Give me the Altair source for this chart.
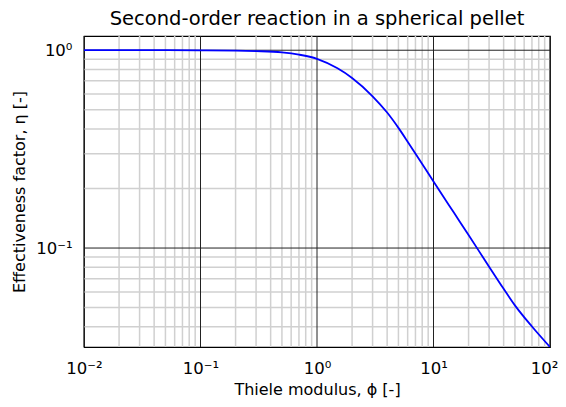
import altair as alt
import pandas as pd

# Curve (Thiele modulus phi vs effectiveness factor eta)
phi = [0.01, 0.02, 0.05, 0.1, 0.2, 0.3, 0.5, 0.7, 1.0, 1.5, 2.0, 3.0, 4.0, 5.0,
       6.0, 8.0, 10.0, 15.0, 20.0, 30.0, 40.0, 50.0, 70.0, 100.0]
eta = [1.0, 1.0, 1.0, 0.999, 0.996, 0.99, 0.975, 0.95, 0.905, 0.81, 0.724, 0.585,
       0.484, 0.405, 0.345, 0.266, 0.217, 0.1506, 0.1163, 0.0805, 0.0622, 0.0513,
       0.0401, 0.0316]

# Grid positions
x_major = [0.01, 0.1, 1.0, 10.0, 100.0]
x_minor = [0.02, 0.03, 0.04, 0.05, 0.06, 0.07, 0.08, 0.09,
           0.2, 0.3, 0.4, 0.5, 0.6, 0.7, 0.8, 0.9,
           2, 3, 4, 5, 6, 7, 8, 9,
           20, 30, 40, 50, 60, 70, 80, 90]
y_major = [0.1, 1.0]
y_minor = [0.04, 0.05, 0.06, 0.07, 0.08, 0.09,
           0.2, 0.3, 0.4, 0.5, 0.6, 0.7, 0.8, 0.9]

x_domain = [0.01, 100.0]
y_domain = [0.0316, 1.18]

FONT = "DejaVu Sans"

curve = pd.DataFrame({"phi": phi, "eta": eta})
xs = alt.Scale(type="log", domain=x_domain, nice=False)
ys = alt.Scale(type="log", domain=y_domain, nice=False)

sup_expr = ("'10' + (round(log(datum.value)/LN10) == -2 ? '\u207b\u00b2' : "
            "round(log(datum.value)/LN10) == -1 ? '\u207b\u00b9' : "
            "round(log(datum.value)/LN10) == 0 ? '\u2070' : "
            "round(log(datum.value)/LN10) == 1 ? '\u00b9' : '\u00b2')")

x_axis = alt.Axis(values=x_major, labelExpr=sup_expr, grid=False,
                  ticks=False, domain=False, labelPadding=13,
                  labelFontSize=16.5, labelFont=FONT, labelColor="black",
                  labelFlush=False,
                  labelOffset={"condition": {"test": "datum.value >= 100", "value": -6},
                               "value": 0},
                  title="Thiele modulus, \u03d5 [-]", titleFont=FONT,
                  titleFontSize=16, titleFontWeight="normal",
                  titleColor="black", titlePadding=5)
y_axis = alt.Axis(values=y_major, labelExpr=sup_expr, grid=False,
                  ticks=False, domain=False, labelPadding=12,
                  labelFontSize=16.5, labelFont=FONT, labelColor="black",
                  labelFlush=False,
                  title="Effectiveness factor, \u03b7 [-]", titleFont=FONT,
                  titleFontSize=16, titleFontWeight="normal",
                  titleColor="black", titlePadding=8)

xminor = alt.Chart(pd.DataFrame({"v": x_minor})).mark_rule(
    color="#d0d0d0", strokeWidth=1.5).encode(x=alt.X("v:Q", scale=xs, axis=x_axis))
yminor = alt.Chart(pd.DataFrame({"v": y_minor})).mark_rule(
    color="#d0d0d0", strokeWidth=1.5).encode(y=alt.Y("v:Q", scale=ys, axis=y_axis))
xmaj = alt.Chart(pd.DataFrame({"v": x_major})).mark_rule(
    color="#222222", strokeWidth=1).encode(x=alt.X("v:Q", scale=xs, axis=x_axis))
ymaj = alt.Chart(pd.DataFrame({"v": y_major})).mark_rule(
    color="#222222", strokeWidth=1).encode(y=alt.Y("v:Q", scale=ys, axis=y_axis))

line = alt.Chart(curve).mark_line(color="#0000ff", strokeWidth=1.8,
                                  interpolate="monotone", clip=True).encode(
    x=alt.X("phi:Q", scale=xs, axis=x_axis),
    y=alt.Y("eta:Q", scale=ys, axis=y_axis),
)

chart = alt.layer(xminor, yminor, xmaj, ymaj, line).properties(
    width=466, height=311,
    autosize="none",
    padding={"left": 76, "top": 28, "right": 8, "bottom": 52},
    title=alt.Title("Second-order reaction in a spherical pellet", font=FONT,
                    fontSize=19.5, fontWeight="normal", color="black", offset=6),
).configure_view(stroke="black", strokeWidth=1.2)

chart.save("out.html", embed_options={"renderer": "svg", "actions": False})
